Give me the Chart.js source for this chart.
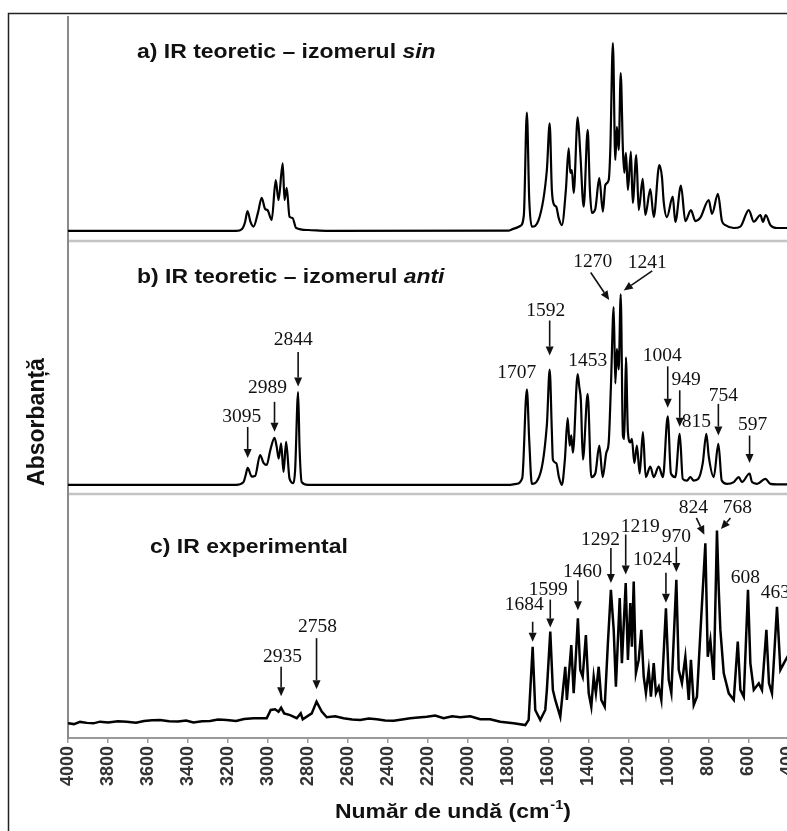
<!DOCTYPE html>
<html>
<head>
<meta charset="utf-8">
<script src="https://cdn.jsdelivr.net/npm/chart.js@4.4.1/dist/chart.umd.min.js"></script>
<style>
  html, body { margin: 0; padding: 0; background: #fff; overflow: hidden; }
  #wrap { width: 813px; height: 831px; }
</style>
</head>
<body>
<div id="wrap"><canvas id="irChart" width="813" height="831"></canvas></div>
<script>
// wavenumbers (cm-1) and absorbance; each panel runs 0..100
const tickValues = [4000, 3800, 3600, 3400, 3200, 3000, 2800, 2600, 2400, 2200, 2000,
                    1800, 1600, 1400, 1200, 1000, 800, 600, 400];

// a) theoretical, sin isomer
const sinWn = [4000, 3160, 3130, 3115, 3103, 3088, 3073, 3050, 3032, 3015, 3003, 2982, 2962, 2948, 2927,
  2918, 2907, 2893, 2878, 2860, 2800, 2700, 1800, 1775, 1740, 1722, 1707, 1695, 1682, 1648, 1607, 1593,
  1582, 1570, 1560, 1548, 1532, 1512, 1498, 1490, 1482, 1473, 1453, 1440, 1423, 1403, 1392, 1382, 1365,
  1345, 1327, 1315, 1298, 1290, 1277, 1265, 1257, 1248, 1238, 1227, 1220, 1212, 1202, 1187, 1178, 1160,
  1148, 1128, 1115, 1090, 1073, 1045, 1032, 1023, 1007, 978, 965, 937, 915, 887, 865, 840, 798, 782, 752,
  732, 715, 673, 640, 598, 573, 540, 527, 513, 490, 457, 400];
const sinAbs = [4.5, 4.5, 5.4, 8.5, 13.4, 8.5, 6.4, 12.9, 19.3, 14.3, 13.8, 9.4, 27.2, 18.3, 34.7,
  18.3, 23.7, 10.8, 10.3, 5.8, 4.9, 4.5, 4.6, 5.4, 6.7, 11.6, 57.3, 18.3, 6.4, 9.4, 31.7, 52.5,
  22.8, 16.1, 15.3, 10.3, 7.1, 22.8, 41.4, 30.4, 31.7, 21.4, 55.2, 39.3, 15.3, 49.6, 22.8, 12.5, 14.3,
  28.1, 13.1, 25, 27.2, 40.6, 88.3, 36.2, 51, 40.6, 74.9, 40.6, 30.4, 39.3, 22.8, 39.9, 17, 38.4,
  13.8, 27.7, 11.6, 23.2, 10.7, 33.9, 28.6, 17.4, 10.7, 19.8, 8.5, 24.7, 8.9, 13.8, 8.9, 10.4, 18.3, 12.1, 21,
  8.9, 7.1, 5.8, 6.4, 13.8, 8.6, 11.6, 8.6, 11.6, 7.1, 5.8, 5.8];

// b) theoretical, anti isomer
const antiWn = [4000, 3160, 3123, 3112, 3102, 3082, 3065, 3040, 3023, 3007, 2990, 2968, 2957, 2947, 2935,
  2923, 2910, 2893, 2873, 2865, 2850, 2843, 2832, 2800, 1800, 1760, 1730, 1707, 1695, 1682, 1660, 1607,
  1593, 1582, 1577, 1560, 1547, 1532, 1517, 1503, 1493, 1485, 1477, 1453, 1445, 1437, 1427, 1403, 1385,
  1365, 1345, 1328, 1310, 1298, 1287, 1273, 1265, 1257, 1248, 1238, 1227, 1220, 1212, 1202, 1190, 1182,
  1170, 1157, 1143, 1127, 1113, 1090, 1073, 1048, 1027, 1003, 987, 965, 943, 928, 907, 890, 873, 850,
  828, 810, 798, 773, 750, 733, 707, 673, 648, 632, 594, 582, 557, 515, 490, 457, 400];
const antiAbs = [3.6, 3.6, 4.7, 7.5, 10.3, 6.9, 7.1, 15.4, 12.3, 11.5, 17, 22.2, 18.6, 14, 20,
  8.7, 20.6, 6.1, 4.3, 9.5, 40.3, 18.6, 4.7, 3.6, 3.6, 4, 6.3, 41.4, 21, 4, 4.7, 27.3,
  49.2, 24.5, 13.6, 12.2, 6.7, 3.6, 13.6, 30, 19.1, 23.2, 16.3, 47.4, 42.3, 36.9, 13.6, 39.6, 6.7,
  8.1, 19.1, 6.7, 16.3, 20.4, 42.3, 73.9, 43.7, 57.4, 49.2, 78.9, 23.2, 21.8, 54, 24.5, 20.4, 21.8,
  12.2, 19.1, 8.1, 24.5, 6.7, 10.8, 6.7, 10.8, 6.7, 30.7, 8.1, 6.7, 23.8, 6, 5.3, 6.7, 5.3, 6,
  12.2, 23.8, 14.9, 6.7, 19.8, 5.3, 4, 4.7, 6.7, 4.7, 8.1, 4.7, 4, 6, 4, 3.8, 3.8];

// c) experimental
const expWn = [4000, 3970, 3940, 3905, 3873, 3840, 3800, 3750, 3707, 3660, 3620, 3580, 3540, 3495, 3450,
  3410, 3373, 3330, 3290, 3250, 3207, 3160, 3120, 3073, 3007, 2987, 2965, 2948, 2935, 2920, 2890, 2857,
  2837, 2827, 2782, 2758, 2732, 2707, 2665, 2623, 2580, 2540, 2497, 2457, 2415, 2373, 2330, 2290, 2250,
  2207, 2165, 2123, 2080, 2040, 1990, 1940, 1890, 1840, 1773, 1715, 1698, 1678, 1665, 1640, 1615, 1607,
  1590, 1577, 1565, 1540, 1515, 1507, 1485, 1473, 1465, 1452, 1440, 1428, 1412, 1398, 1385, 1373, 1362,
  1348, 1335, 1318, 1302, 1287, 1273, 1262, 1243, 1232, 1213, 1202, 1190, 1182, 1173, 1162, 1148, 1135,
  1123, 1112, 1098, 1087, 1073, 1062, 1048, 1035, 1012, 998, 985, 960, 948, 932, 915, 898, 887, 873, 857,
  840, 815, 803, 790, 773, 757, 748, 740, 723, 698, 673, 653, 640, 623, 602, 590, 573, 548, 532, 510,
  497, 482, 457, 440, 423, 405, 400];
const expAbs = [6.1, 5.7, 6.6, 6.2, 6.0, 6.7, 6.4, 6.9, 6.7, 6.3, 7.0, 7.3, 7.4, 6.9, 6.8,
  7.2, 6.4, 6.9, 7.0, 7.6, 7.4, 7.0, 7.8, 8.1, 8.1, 11.5, 11.8, 10.8, 12.4, 10.1, 9.4, 8.1,
  10.1, 7.7, 10.1, 14.9, 10.8, 8.5, 8.9, 8.1, 7.6, 7.4, 8.0, 7.7, 7.2, 7.1, 7.6, 8.1, 8.4,
  8.7, 9.2, 8.1, 8.9, 8.5, 8.9, 7.7, 7.7, 6.7, 6.0, 5.3, 7.4, 37.4, 11.5, 7.4, 11.5, 19.7,
  43.6, 19.7, 15.6, 8.7, 29.2, 15.6, 38.1, 18.4, 29.2, 49.1, 27.9, 25.1, 42.2, 18.4, 12.8, 25.1, 18.4,
  29.2, 15.6, 12.8, 38.9, 60.7, 44.3, 21, 57.4, 30.7, 63.5, 32, 55.3, 37.4, 64.1, 26.6, 32, 44.3,
  25.1, 18.4, 27.9, 16.9, 30.7, 18.4, 21, 15.6, 53.2, 23.8, 18.4, 64.8, 27.9, 22.5, 33.3, 15.6, 32, 13.5, 16.9,
  42.9, 79.8, 33.3, 40.2, 23.8, 85, 60.7, 44.3, 26.5, 18.3, 15.6, 39.5, 19.7, 16.9, 60.7, 30.6, 19.7, 22.4, 19.7, 44.3,
  22.4, 18.3, 53.8, 27.9, 30.6, 33.3, 34];

// peak labels: text and where the labelled peak sits
const antiPeakLabels = ['3095', '2989', '2844', '1707', '1592', '1453', '1270', '1241', '1004', '949', '815', '754', '597'];
const antiPeakWn = [3102, 2968, 2850, 1707, 1593, 1453, 1273, 1238, 1003, 943, 810, 750, 594];
const expPeakLabels = ['2935', '2758', '1684', '1599', '1460', '1292', '1219', '1024', '970', '824', '768', '608', '463'];
const expPeakWn = [2935, 2758, 1678, 1590, 1452, 1287, 1213, 1012, 960, 815, 757, 602, 457];

// arrow / label placement (px, relative to the peak top)
const antiMarks = [
  {gap: 10, len: 31, tx: -6, ty: -51},
  {gap: 6, len: 30, tx: -7, ty: -50},
  {gap: 5.5, len: 34.5, tx: -5, ty: -52},
  {tx: -10, ty: -16},
  {gap: 14, len: 35, tx: -4, ty: -59},
  {tx: 10, ty: -13},
  {d: [-23, -34.5, -4.5, -7], tx: -21, ty: -45},
  {d: [31.5, -23.5, 3, -4], tx: 26.5, ty: -32},
  {gap: 8.5, len: 41.5, tx: -5.5, ty: -60.5},
  {gap: 7, len: 36.5, tx: 6.5, ty: -53.5},
  {tx: -10, ty: -12},
  {gap: 8.5, len: 31.5, tx: 5, ty: -48.5},
  {gap: 10.5, len: 27.5, tx: 3, ty: -48.5}
];
const expMarks = [
  {gap: 11.5, len: 29.5, tx: 1.5, ty: -51},
  {gap: 12.5, len: 51, tx: 1, ty: -75},
  {gap: 5, len: 20, tx: -8.5, ty: -41.5},
  {gap: 4, len: 28, tx: -2, ty: -41.5},
  {gap: 8, len: 30, tx: 4.5, ty: -46.5},
  {gap: 7, len: 35, tx: -10.5, ty: -50},
  {gap: 8.5, len: 40, tx: 14.5, ty: -56.5},
  {gap: 5.5, len: 30, tx: -13.5, ty: -48.5},
  {gap: 8, len: 25, tx: 0, ty: -43.5},
  {d: [-9, -25.5, -1, -8.5], tx: -12, ty: -35.5},
  {d: [13.5, -12.5, 4, -1.5], tx: 20.5, ty: -22.5},
  {tx: -2.5, ty: -12},
  {tx: -1.5, ty: -13.5}
];

const SANS = "'Liberation Sans', Arial, sans-serif";
const SERIF = "'Liberation Serif', 'Times New Roman', serif";

function toPoints(xs, ys) {
  return xs.map((x, i) => ({x: x, y: ys[i]}));
}

function valueAt(xs, ys, w) {
  let best = 0;
  xs.forEach((x, i) => { if (Math.abs(x - w) < Math.abs(xs[best] - w)) best = i; });
  return ys[best];
}

function arrow(ctx, x1, y1, x2, y2) {
  const ang = Math.atan2(y2 - y1, x2 - x1);
  const hl = 9, hw = 4;
  const bx = x2 - hl * Math.cos(ang), by = y2 - hl * Math.sin(ang);
  ctx.beginPath();
  ctx.moveTo(x1, y1);
  ctx.lineTo(bx, by);
  ctx.stroke();
  ctx.beginPath();
  ctx.moveTo(x2, y2);
  ctx.lineTo(bx + hw * Math.sin(ang), by - hw * Math.cos(ang));
  ctx.lineTo(bx - hw * Math.sin(ang), by + hw * Math.cos(ang));
  ctx.closePath();
  ctx.fill();
}

// sans text in the figure is a bit wider than Arial
function wideText(ctx, str, x, y, stretch) {
  ctx.save();
  ctx.translate(x, y);
  ctx.scale(stretch, 1);
  ctx.fillText(str, 0, 0);
  ctx.restore();
  return ctx.measureText(str).width * stretch;
}

function drawTitle(ctx, parts, x, y) {
  ctx.textAlign = 'left';
  ctx.textBaseline = 'middle';
  ctx.fillStyle = '#111';
  parts.forEach(p => {
    ctx.font = p[1] + ' 20.5px ' + SANS;
    x += wideText(ctx, p[0], x, y, 1.12);
  });
}

function drawMarks(ctx, xScale, yScale, labels, at, xs, ys, marks) {
  ctx.strokeStyle = '#111';
  ctx.fillStyle = '#111';
  ctx.lineWidth = 1.6;
  ctx.font = '19.5px ' + SERIF;
  ctx.textAlign = 'center';
  ctx.textBaseline = 'middle';
  labels.forEach((lab, i) => {
    const m = marks[i];
    const px = xScale.getPixelForValue(at[i]);
    const py = yScale.getPixelForValue(valueAt(xs, ys, at[i]));
    if (m.d) {
      arrow(ctx, px + m.d[0], py + m.d[1], px + m.d[2], py + m.d[3]);
    } else if (m.len) {
      arrow(ctx, px, py - m.gap - m.len, px, py - m.gap);
    }
    ctx.fillText(lab, px + m.tx, py + m.ty);
  });
}

const decor = {
  id: 'decor',
  beforeDraw(chart) {
    const ctx = chart.ctx;
    ctx.save();
    ctx.fillStyle = '#fff';
    ctx.fillRect(0, 0, chart.width, chart.height);
    ctx.restore();
  },
  beforeDatasetsDraw(chart) {
    const {ctx, scales, chartArea} = chart;
    ctx.save();
    ctx.strokeStyle = '#c4c4c4';
    ctx.lineWidth = 2.5;
    [scales.ya.bottom, scales.yb.bottom].forEach(y => {
      ctx.beginPath();
      ctx.moveTo(chartArea.left + 1, y);
      ctx.lineTo(chart.width, y);
      ctx.stroke();
    });
    ctx.restore();
  },
  afterDraw(chart) {
    const {ctx, scales} = chart;
    const x = scales.x;
    ctx.save();
    // outer frame of the figure
    ctx.strokeStyle = '#222';
    ctx.lineWidth = 1.5;
    ctx.beginPath();
    ctx.moveTo(8.5, chart.height);
    ctx.lineTo(8.5, 13.5);
    ctx.lineTo(chart.width, 13.5);
    ctx.stroke();

    drawTitle(ctx, [['a) IR teoretic \u2013 izomerul ', 'bold'], ['sin', 'italic bold']], 137, scales.ya.top + 35);
    drawTitle(ctx, [['b) IR teoretic \u2013 izomerul ', 'bold'], ['anti', 'italic bold']], 137, scales.yb.top + 36);
    drawTitle(ctx, [['c) IR experimental', 'bold']], 150, scales.yc.top + 53);

    drawMarks(ctx, x, scales.yb, antiPeakLabels, antiPeakWn, antiWn, antiAbs, antiMarks);
    drawMarks(ctx, x, scales.yc, expPeakLabels, expPeakWn, expWn, expAbs, expMarks);

    // axis titles
    ctx.fillStyle = '#111';
    ctx.textBaseline = 'middle';
    ctx.textAlign = 'left';
    ctx.font = 'bold 20.5px ' + SANS;
    let tx = 335;
    const ty = x.top + 74;
    tx += wideText(ctx, 'Num\u0103r de und\u0103 (cm', tx, ty, 1.12);
    ctx.font = 'bold 13px ' + SANS;
    tx += wideText(ctx, '-1', tx + 1, ty - 7, 1.12) + 1;
    ctx.font = 'bold 20.5px ' + SANS;
    wideText(ctx, ')', tx, ty, 1.12);

    ctx.save();
    ctx.translate(38, 422);
    ctx.rotate(-Math.PI / 2);
    ctx.textAlign = 'center';
    ctx.font = 'bold 23px ' + SANS;
    ctx.fillText('Absorban\u021b\u0103', 0, 0);
    ctx.restore();
    ctx.restore();
  }
};

function panelAxis(weight, stackWeight) {
  return {
    type: 'linear',
    position: 'left',
    stack: 'panels',
    stackWeight: stackWeight,
    weight: weight,
    min: 0,
    max: 100,
    ticks: {display: false},
    grid: {display: false},
    border: {display: true, color: '#8a8a8a', width: 2},
    afterFit: s => { s.width = 60; }
  };
}

const lineStyle = {
  borderColor: '#000',
  pointRadius: 0,
  fill: false
};

new Chart(document.getElementById('irChart'), {
  type: 'line',
  data: {
    datasets: [
      Object.assign({label: 'sin', data: toPoints(sinWn, sinAbs), yAxisID: 'ya', borderWidth: 2.2, cubicInterpolationMode: 'monotone'}, lineStyle),
      Object.assign({label: 'anti', data: toPoints(antiWn, antiAbs), yAxisID: 'yb', borderWidth: 2.2, cubicInterpolationMode: 'monotone'}, lineStyle),
      Object.assign({label: 'exp', data: toPoints(expWn, expAbs), yAxisID: 'yc', borderWidth: 2.5, tension: 0}, lineStyle)
    ]
  },
  options: {
    responsive: false,
    animation: false,
    devicePixelRatio: 1,
    layout: {padding: {left: 8, top: 17, right: 0, bottom: 0}},
    plugins: {legend: {display: false}, tooltip: {enabled: false}},
    scales: {
      x: {
        type: 'linear',
        reverse: true,
        min: 400,
        max: 4000,
        afterBuildTicks: s => { s.ticks = tickValues.map(v => ({value: v})); },
        ticks: {
          autoSkip: false,
          minRotation: 90,
          maxRotation: 90,
          padding: 3,
          color: '#333',
          font: {family: SANS, size: 18, weight: 'bold'},
          callback: v => String(v)
        },
        grid: {display: true, drawOnChartArea: false, drawTicks: true, tickLength: 5, color: '#999', lineWidth: 1.5},
        border: {display: true, color: '#999', width: 2},
        afterFit: s => { s.height = 93; }
      },
      ya: panelAxis(3, 224),
      yb: panelAxis(2, 253),
      yc: panelAxis(1, 244)
    }
  },
  plugins: [decor]
});
</script>
</body>
</html>
